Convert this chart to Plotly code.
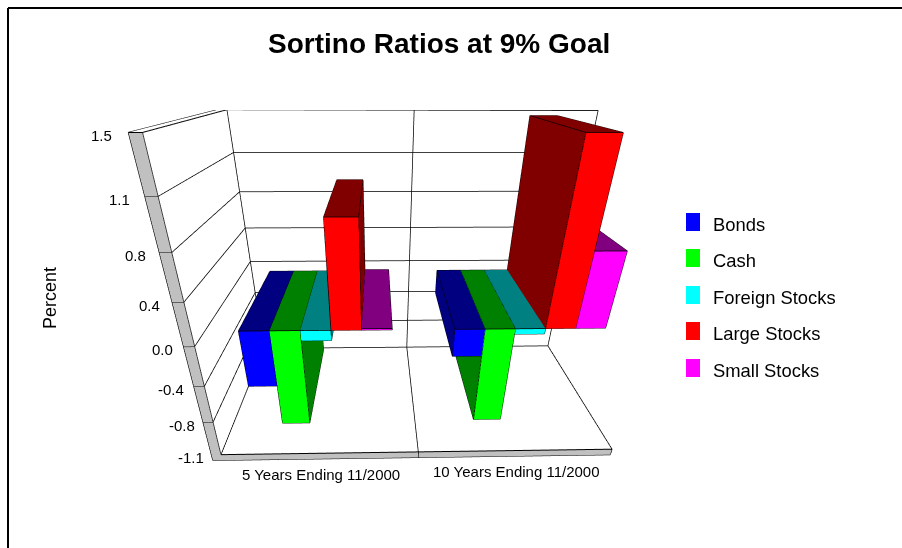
import numpy as np
import plotly.graph_objects as go

# Series, categories and axis labels
series_names = ['Bonds', 'Cash', 'Foreign Stocks', 'Large Stocks', 'Small Stocks']
categories = ['5 Years Ending 11/2000', '10 Years Ending 11/2000']
five_year = [-0.551, -0.973, -0.096, 0.924, 0.012]
ten_year = [-0.261, -0.956, -0.05, 1.477, 0.662]
tick_values = [1.5, 1.125, 0.75, 0.375, 0, -0.375, -0.75, -1.125]
tick_labels = ['1.5', '1.1', '0.8', '0.4', '0.0', '-0.4', '-0.8', '-1.1']
front_colors = ['#0000ff', '#00ff00', '#00ffff', '#ff0000', '#ff00ff']
side_colors = ['#000080', '#008000', '#008080', '#800000', '#800080']

FONT = 'Liberation Sans'
W, H = 902, 548

# Bar layout along the category axis (0..2) and the depth axis (0..1)
group_centers = [0.5093, 1.5105]
bar_width = 0.1419
depth_front, depth_back = 0.1304, 0.8396

# Side wall and floor slab thickness, in axis units
wall_x = -0.048
floor_z = -1.125 - 0.068
Z_MIN, Z_MAX = -1.125, 1.5
X_MAX = 2.0
pad = 0.01

# Scene scale per axis unit and the viewing position in those scaled units
scale = np.array([0.5, 0.4594, 0.7725 / 2.625])
camera_pos = np.array([0.3987, -0.7721, 0.8697])
view_dir = np.array([0.0198, 0.8907, -0.4542])
view_up = np.array([0.0062, 0.4542, 0.8909])

ranges = np.array([[wall_x - pad, X_MAX + pad], [-pad, 1 + pad], [floor_z - pad, Z_MAX + pad]])
origin = np.array([0, 0, Z_MIN])
scaled = (ranges - origin[:, None]) * scale[:, None]
scene_mid = scaled.mean(axis=1)
aspect = scaled[:, 1] - scaled[:, 0]
eye = camera_pos - scene_mid
center = eye + view_dir

VIEW_H, VIEW_CY, VIEW_CX = 352, 286, 386.11

LIGHTING = dict(ambient=1, diffuse=0, specular=0, roughness=1, fresnel=0)


class Segments:
    """Collects 3D line segments for a single Scatter3d trace."""

    def __init__(self):
        self.x, self.y, self.z = [], [], []

    def add(self, a, b):
        self.x += [a[0], b[0], None]
        self.y += [a[1], b[1], None]
        self.z += [a[2], b[2], None]

    def trace(self, width):
        return go.Scatter3d(x=self.x, y=self.y, z=self.z, mode='lines',
                            line=dict(color='black', width=width), hoverinfo='skip')


def bar_trace(boxes, front, side, name):
    """Mesh and outline for a series: one box per category, front face bright."""
    X, Y, Z, I, J, K, colors = [], [], [], [], [], [], []
    edges = Segments()
    faces = [((0, 4, 5, 1), front), ((2, 6, 7, 3), side), ((0, 2, 3, 1), side),
             ((4, 6, 7, 5), side), ((1, 5, 7, 3), side), ((0, 4, 6, 2), side)]
    for x0, x1, y0, y1, z0, z1 in boxes:
        n = len(X)
        for a in (x0, x1):
            for b in (y0, y1):
                for c in (z0, z1):
                    X.append(a)
                    Y.append(b)
                    Z.append(c)
        for q, col in faces:
            I += [n + q[0], n + q[0]]
            J += [n + q[1], n + q[2]]
            K += [n + q[2], n + q[3]]
            colors += [col, col]
            for a, b in zip(q, q[1:] + q[:1]):
                edges.add((X[n + a], Y[n + a], Z[n + a]), (X[n + b], Y[n + b], Z[n + b]))
    mesh = go.Mesh3d(x=X, y=Y, z=Z, i=I, j=J, k=K, facecolor=colors, flatshading=True,
                     lighting=LIGHTING, hoverinfo='skip', name=name)
    return mesh, edges.trace(1.5)


fig = go.Figure()

# Bars
for s, name in enumerate(series_names):
    boxes = []
    for c, v in zip(group_centers, (five_year[s], ten_year[s])):
        x0 = c + (s - 2.5) * bar_width
        boxes.append((x0, x0 + bar_width, depth_front, depth_back, min(0, v), max(0, v)))
    mesh, outline = bar_trace(boxes, front_colors[s], side_colors[s], name)
    fig.add_trace(mesh)
    fig.add_trace(outline)

# Gridlines on the back wall, side wall and floor
grid = Segments()
for t in tick_values:
    grid.add((0, 1, t), (X_MAX, 1, t))
    grid.add((0, 0, t), (0, 1, t))
grid.add((0, 1, Z_MIN), (0, 1, Z_MAX))
grid.add((X_MAX, 1, Z_MIN), (X_MAX, 1, Z_MAX))
grid.add((1, 1, Z_MIN), (1, 1, Z_MAX))
grid.add((1, 1, Z_MIN), (1, 0, Z_MIN))
grid.add((X_MAX, 1, Z_MIN), (X_MAX, 0, Z_MIN))
grid.add((0, 0, Z_MIN), (0, 0, Z_MAX))
fig.add_trace(grid.trace(1.5))

# Grey front faces of the side wall and floor, white top of the wall
fig.add_trace(go.Mesh3d(
    x=[wall_x, 0, 0, wall_x, wall_x, X_MAX, X_MAX, wall_x, wall_x, 0, 0, wall_x],
    y=[0, 0, 0, 0, 0, 0, 0, 0, 0, 0, 1, 1],
    z=[floor_z, floor_z, Z_MAX, Z_MAX, floor_z, floor_z, Z_MIN, Z_MIN, Z_MAX, Z_MAX, Z_MAX, Z_MAX],
    i=[0, 0, 4, 4, 8, 8], j=[1, 2, 5, 6, 9, 10], k=[2, 3, 6, 7, 10, 11],
    facecolor=['#c0c0c0'] * 4 + ['#ffffff'] * 2,
    flatshading=True, lighting=LIGHTING, hoverinfo='skip'))

frame = Segments()
frame.add((wall_x, 0, Z_MAX), (wall_x, 0, floor_z))
frame.add((wall_x, 0, floor_z), (X_MAX, 0, floor_z))
frame.add((X_MAX, 0, floor_z), (X_MAX, 0, Z_MIN))
frame.add((X_MAX, 0, Z_MIN), (0, 0, Z_MIN))
frame.add((wall_x, 0, Z_MAX), (0, 0, Z_MAX))
frame.add((wall_x, 0, Z_MAX), (wall_x, 1, Z_MAX))
frame.add((0, 0, Z_MAX), (0, 1, Z_MAX))
frame.add((0, 1, Z_MAX), (X_MAX, 1, Z_MAX))
frame.add((wall_x, 1, Z_MAX), (0, 1, Z_MAX))
frame.add((1, 0, floor_z), (1, 0, Z_MIN))
for t in tick_values[1:-1]:
    frame.add((wall_x, 0, t), (0, 0, t))
fig.add_trace(frame.trace(2))

# Value and category labels anchored in scene coordinates
label_font = dict(family=FONT, size=15, color='black')
scene_labels = [
    dict(x=wall_x, y=0, z=t, text=s, showarrow=False, xanchor='right',
         xshift=float(dx), yshift=-3, font=label_font)
    for t, s, dx in zip(tick_values, tick_labels, np.linspace(-14, -5, len(tick_values)))
]
for c, text, dx, dy in zip((0.5, 1.5), categories, (0, 2), (-16, -15)):
    scene_labels.append(dict(x=c, y=0, z=floor_z, text=text, showarrow=False,
                             xshift=dx, yshift=dy, font=label_font))

# Chart frame, title, axis title and legend
def py(v):
    return 1 - v / H


shapes = [
    dict(type='line', xref='paper', yref='paper', x0=8 / W, x1=8 / W, y0=0, y1=py(8),
         line=dict(color='black', width=2)),
    dict(type='line', xref='paper', yref='paper', x0=8 / W, x1=1, y0=py(8), y1=py(8),
         line=dict(color='black', width=2)),
]
annotations = [
    dict(text='<b>Sortino Ratios at 9% Goal</b>', xref='paper', yref='paper', x=439 / W, y=py(43),
         xanchor='center', yanchor='middle', showarrow=False,
         font=dict(family=FONT, size=28, color='black')),
    dict(text='Percent', xref='paper', yref='paper', x=50 / W, y=py(298), xanchor='center',
         yanchor='middle', showarrow=False, textangle=-90,
         font=dict(family=FONT, size=18, color='black')),
]
for s, (name, cy) in enumerate(zip(series_names, [222, 258, 295, 331, 368])):
    shapes.append(dict(type='rect', xref='paper', yref='paper', x0=686 / W, x1=700 / W,
                       y0=py(cy + 9), y1=py(cy - 9), fillcolor=front_colors[s], line=dict(width=0)))
    annotations.append(dict(text=name, xref='paper', yref='paper', x=711 / W, y=py(cy + 2.5),
                            xanchor='left', yanchor='middle', showarrow=False,
                            font=dict(family=FONT, size=18.4, color='black')))

hidden = dict(visible=False)
fig.update_layout(
    width=W, height=H, margin=dict(l=0, r=0, t=0, b=0), showlegend=False,
    paper_bgcolor='white', shapes=shapes, annotations=annotations,
    scene=dict(
        domain=dict(x=[0, 2 * VIEW_CX / W],
                    y=[(H - VIEW_CY - VIEW_H / 2) / H, (H - VIEW_CY + VIEW_H / 2) / H]),
        annotations=scene_labels,
        xaxis=dict(hidden, range=ranges[0].tolist()),
        yaxis=dict(hidden, range=ranges[1].tolist()),
        zaxis=dict(hidden, range=ranges[2].tolist()),
        aspectmode='manual',
        aspectratio=dict(x=aspect[0], y=aspect[1], z=aspect[2]),
        camera=dict(eye=dict(x=eye[0], y=eye[1], z=eye[2]),
                    center=dict(x=center[0], y=center[1], z=center[2]),
                    up=dict(x=view_up[0], y=view_up[1], z=view_up[2])),
    ),
)
fig.write_html("out.html", config=dict(displayModeBar=False))
